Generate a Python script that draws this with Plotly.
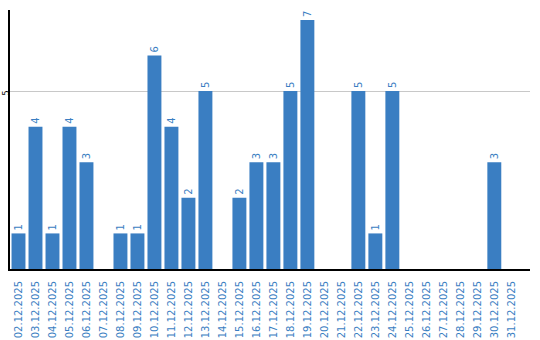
import plotly.graph_objects as go

dates = ["02.12.2025","03.12.2025","04.12.2025","05.12.2025","06.12.2025","07.12.2025",
         "08.12.2025","09.12.2025","10.12.2025","11.12.2025","12.12.2025","13.12.2025",
         "14.12.2025","15.12.2025","16.12.2025","17.12.2025","18.12.2025","19.12.2025",
         "20.12.2025","21.12.2025","22.12.2025","23.12.2025","24.12.2025","25.12.2025",
         "26.12.2025","27.12.2025","28.12.2025","29.12.2025","30.12.2025","31.12.2025"]
values = [1,4,1,4,3,0,1,1,6,4,2,5,0,2,3,3,5,7,0,0,5,1,5,0,0,0,0,0,3,0]

blue = "#3a7ec2"
labels = [str(v) if v > 0 else "" for v in values]

fig = go.Figure(go.Bar(
    x=dates, y=values, marker_color=blue, marker_line_width=0,
    text=labels, textposition="outside", textangle=-90,
    textfont=dict(color=blue, size=10, family="DejaVu Sans"),
    cliponaxis=False,
))
fig.update_layout(
    width=540, height=340,
    margin=dict(l=10, r=10, t=10, b=71),
    plot_bgcolor="white", paper_bgcolor="white",
    bargap=0.18, showlegend=False,
    font=dict(family="DejaVu Sans"),
)
fig.update_xaxes(
    type="category", range=[-0.5, 30.1], automargin=False,
    showline=True, linecolor="black", linewidth=2,
    tickangle=-90, tickfont=dict(color=blue, size=10, family="DejaVu Sans"),
    ticks="", showgrid=False, ticklabelstandoff=6,
)
fig.update_yaxes(
    range=[0, 7.28], tickvals=[5], ticktext=["5"], automargin=False,
    showline=True, linecolor="black", linewidth=2,
    showgrid=True, gridcolor="#c8c8c8", gridwidth=1,
    tickangle=-90, tickfont=dict(color="black", size=8),
    zeroline=False, ticks="", ticklabelstandoff=-4, ticklabelshift=3,
)
fig.write_html("out.html")
